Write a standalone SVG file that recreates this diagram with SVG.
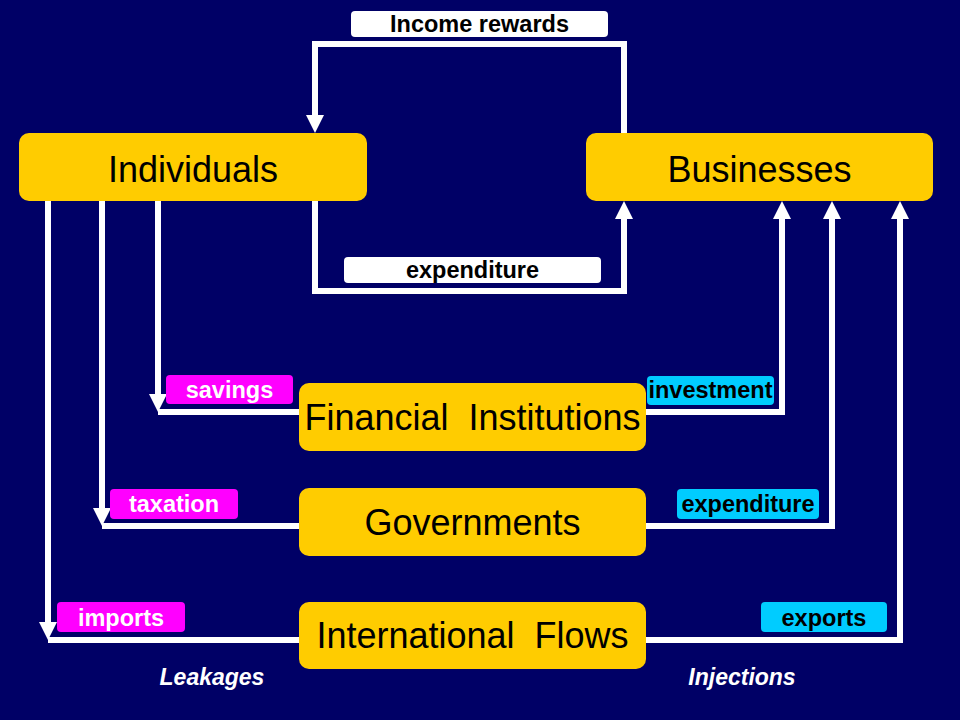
<svg xmlns="http://www.w3.org/2000/svg" width="960" height="720" viewBox="0 0 960 720">
<defs>
<style>
.node rect{fill:#FFCC00}
.node text{font-family:"Liberation Sans",Arial,sans-serif;font-size:36px;fill:#000;text-anchor:middle}
.conn path{fill:none;stroke:#fff;stroke-width:6;stroke-linejoin:miter;stroke-linecap:butt}
.lbl text{font-family:"Liberation Sans",Arial,sans-serif;font-size:23.5px;font-weight:bold;text-anchor:middle}
.white{fill:#fff}
.mag{fill:#FF00FF}
.cyan{fill:#00CCFF}
.tw{fill:#fff}
.tb{fill:#000}
.cap{font-family:"Liberation Sans",Arial,sans-serif;font-size:23px;font-weight:bold;font-style:italic;fill:#fff;text-anchor:middle}
</style>
<marker id="ah" markerUnits="userSpaceOnUse" markerWidth="18" markerHeight="18" refX="0" refY="9" orient="auto">
<path d="M0,0 L18,9 L0,18 z" fill="#fff"/>
</marker>
</defs>
<rect width="960" height="720" fill="#000066"/>

<g id="connectors" class="conn">
<path d="M624,133 V44 H315 V115" marker-end="url(#ah)"/>
<path d="M315,201 V291 H624 V219" marker-end="url(#ah)"/>
<path d="M158,201 V394" marker-end="url(#ah)"/>
<path d="M299,412 H158"/>
<path d="M102,201 V508" marker-end="url(#ah)"/>
<path d="M299,526 H102"/>
<path d="M48,201 V622" marker-end="url(#ah)"/>
<path d="M299,640 H48"/>
<path d="M646,412 H782 V219" marker-end="url(#ah)"/>
<path d="M646,526 H832 V219" marker-end="url(#ah)"/>
<path d="M646,640 H900 V219" marker-end="url(#ah)"/>
</g>

<g id="labels" class="lbl">
<g id="lbl-income"><rect class="white" x="351" y="11" width="257" height="26" rx="4"/><text class="tb" x="479.5" y="32">Income rewards</text></g>
<g id="lbl-expenditure-top"><rect class="white" x="344" y="257" width="257" height="26" rx="4"/><text class="tb" x="472.5" y="278">expenditure</text></g>
<g id="lbl-savings"><rect class="mag" x="166" y="375" width="127" height="29" rx="4"/><text class="tw" x="229.5" y="398">savings</text></g>
<g id="lbl-investment"><rect class="cyan" x="647" y="376" width="127" height="29" rx="4"/><text class="tb" x="710.5" y="398">investment</text></g>
<g id="lbl-taxation"><rect class="mag" x="110" y="489" width="128" height="30" rx="4"/><text class="tw" x="174" y="512">taxation</text></g>
<g id="lbl-expenditure-gov"><rect class="cyan" x="677" y="489" width="142" height="30" rx="4"/><text class="tb" x="748" y="512">expenditure</text></g>
<g id="lbl-imports"><rect class="mag" x="57" y="602" width="128" height="30" rx="4"/><text class="tw" x="121" y="626">imports</text></g>
<g id="lbl-exports"><rect class="cyan" x="761" y="602" width="126" height="30" rx="4"/><text class="tb" x="824" y="626">exports</text></g>
</g>

<g id="individuals" class="node"><rect x="19" y="133" width="348" height="68" rx="10"/><text x="193" y="182">Individuals</text></g>
<g id="businesses" class="node"><rect x="586" y="133" width="347" height="68" rx="10"/><text x="759.5" y="182">Businesses</text></g>
<g id="financial" class="node"><rect x="299" y="383" width="347" height="68" rx="10"/><text x="472.5" y="430" xml:space="preserve">Financial  Institutions</text></g>
<g id="governments" class="node"><rect x="299" y="488" width="347" height="68" rx="10"/><text x="472.5" y="535">Governments</text></g>
<g id="international" class="node"><rect x="299" y="602" width="347" height="67" rx="10"/><text x="472.5" y="648" xml:space="preserve">International  Flows</text></g>

<text class="cap" x="212" y="685">Leakages</text>
<text class="cap" x="742" y="685">Injections</text>
</svg>
